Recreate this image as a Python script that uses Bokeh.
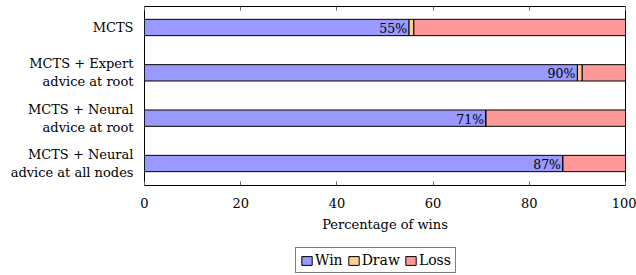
from bokeh.plotting import figure
from bokeh.models import ColumnDataSource, FixedTicker, Legend, LinearAxis, Range1d
from bokeh.layouts import column
from bokeh.embed import file_html
from bokeh.resources import INLINE
from bokeh.core.properties import value

categories = ["MCTS", "MCTS + Expert\nadvice at root", "MCTS + Neural\nadvice at root", "MCTS + Neural\nadvice at all nodes"]
win = [55, 90, 71, 87]
draw = [1, 1, 0, 0]
loss = [44, 9, 29, 13]
x_ticks = [0, 20, 40, 60, 80, 100]
series = ["Win", "Draw", "Loss"]
colors = ["#9999ff", "#ffcc99", "#ff9999"]

FONT = "DejaVu Serif"
n = len(categories)
ypos = [n - 1 - i for i in range(n)]
src = ColumnDataSource(dict(y=ypos, win=win, draw=draw, loss=loss,
                            lab=[f"{w}%" for w in win]))

p = figure(width=636, height=235, output_backend="svg", toolbar_location=None,
           x_range=Range1d(0, 100), y_range=Range1d(-0.485, 3.463),
           min_border_left=144, min_border_right=11, min_border_top=6, min_border_bottom=50)
p.outline_line_color = "black"
p.outline_line_width = 1
p.grid.visible = False
p.background_fill_color = "white"
p.border_fill_color = "white"

rs = p.hbar_stack(["win", "draw", "loss"], y="y", height=0.36, source=src,
                  fill_color=colors, line_color="black", line_width=1)

p.text(x="win", y="y", text="lab", source=src, text_align="right", text_baseline="middle",
       x_offset=-2, y_offset=1, text_font=value(FONT), text_font_size="12.5px", text_color="black")

xa = p.xaxis[0]
xa.ticker = FixedTicker(ticks=x_ticks)
xa.major_tick_in = 4
xa.major_tick_out = 0
xa.minor_tick_line_color = None
xa.major_tick_line_color = "#666666"
xa.axis_line_color = None
xa.major_label_text_font = FONT
xa.major_label_text_font_size = "13px"
xa.major_label_text_color = "black"
xa.major_label_standoff = 12
xa.axis_label = "Percentage of wins"
xa.axis_label_text_font = FONT
xa.axis_label_text_font_size = "13px"
xa.axis_label_text_font_style = "normal"
xa.axis_label_text_color = "black"
xa.axis_label_standoff = 6

top = LinearAxis(ticker=FixedTicker(ticks=x_ticks), major_label_overrides={t: "" for t in x_ticks},
                 major_label_text_font_size="1px",
                 major_label_standoff=0, major_tick_in=4, major_tick_out=0,
                 minor_tick_line_color=None, major_tick_line_color="#666666",
                 axis_line_color=None)
p.add_layout(top, "above")

ya = p.yaxis[0]
ya.ticker = FixedTicker(ticks=ypos)
ya.major_label_overrides = {y: c for y, c in zip(ypos, categories)}
ya.major_tick_line_color = None
ya.minor_tick_line_color = None
ya.axis_line_color = None
ya.major_label_text_font = FONT
ya.major_label_text_font_size = "13px"
ya.major_label_text_color = "black"
ya.major_label_standoff = 5

# legend strip below the chart (its frame is aligned with the chart's frame)
p2 = figure(width=636, height=40, output_backend="svg", toolbar_location=None,
            x_range=Range1d(0, 1), y_range=Range1d(0, 1),
            min_border_left=144, min_border_right=11, min_border_top=0, min_border_bottom=0)
p2.axis.visible = False
p2.grid.visible = False
p2.outline_line_color = None
proxy = ColumnDataSource(dict(y=[-10] * len(series), right=[0] * len(series)))
lr = [p2.hbar(y="y", right="right", height=1, fill_color=c, line_color="black", source=proxy)
      for c in colors]
legend = Legend(items=[(s, [r]) for s, r in zip(series, lr)],
                orientation="horizontal", location=(151, 2),
                label_text_font=FONT, label_text_font_size="14px", label_text_color="black",
                glyph_width=13, glyph_height=11, label_standoff=2, spacing=4,
                padding=4, margin=0, border_line_color="black", label_height=12)
p2.add_layout(legend, "center")

open("out.html", "w").write(file_html(column(p, p2, spacing=0), INLINE))
